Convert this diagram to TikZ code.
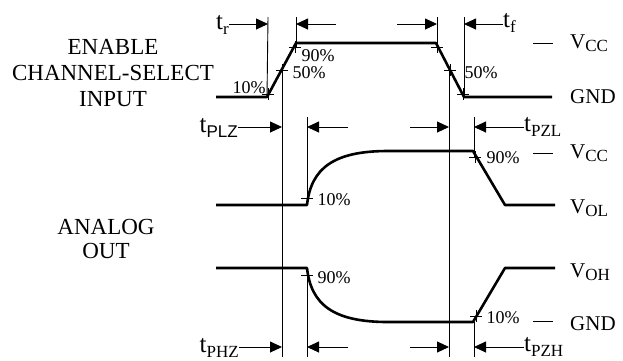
\documentclass[tikz,border=0pt]{standalone}
\usepackage{fontspec}
\setmainfont{Liberation Serif}
\newfontfamily\plzfont{Liberation Sans}
\usetikzlibrary{arrows.meta}
\newcommand{\lowsub}[1]{\raisebox{-0.4ex}{\fontsize{17}{17}\selectfont #1}}

\tikzset{
  wave/.style={line width=2.6pt,line join=round},
  guide/.style={line width=0.9pt},
  tick/.style={line width=1pt},
  tarrow/.style={line width=0.9pt,-{Triangle[length=12pt,width=11pt]}},
  pct/.style={inner sep=0pt,font=\fontsize{18}{18}\selectfont},
  lvl/.style={anchor=base west,inner sep=0pt,font=\fontsize{21}{21}\selectfont},
  tlbl/.style={inner sep=0pt,font=\fontsize{25}{25}\selectfont},
}

\begin{document}
\begin{tikzpicture}[x=1pt,y=-1pt]
  \useasboundingbox (0,0) rectangle (623,360);
  % names of the signals
  \node (input) at (113,73) [align=center,font=\fontsize{23}{26}\selectfont] {ENABLE\\CHANNEL-SELECT\\INPUT};
  \node (analog) at (106,239) [align=center,font=\fontsize{23}{24}\selectfont] {ANALOG\\OUT};

  % input waveform
  \coordinate (in0) at (216,97);
  \coordinate (in1) at (267,97);
  \coordinate (in2) at (296,43);
  \coordinate (in3) at (436,43);
  \coordinate (in4) at (464,97);
  \coordinate (in5) at (552,97);
  \draw[wave] (in0) -- (in1) -- (in2) -- (in3) -- (in4) -- (in5);

  % output, low level going to high impedance
  \coordinate (lo0) at (216,205);
  \coordinate (lo1) at (307,205);
  \coordinate (lo2) at (388,151);
  \coordinate (lo3) at (473,151);
  \coordinate (lo4) at (505,205);
  \coordinate (lo5) at (555,205);
  \draw[wave] (lo0) -- (lo1) .. controls (311,168) and (334,151) .. (lo2) -- (lo3) -- (lo4) -- (lo5);

  % output, high level going to high impedance
  \coordinate (hi0) at (216,268);
  \coordinate (hi1) at (307,268);
  \coordinate (hi2) at (388,322);
  \coordinate (hi3) at (473,322);
  \coordinate (hi4) at (505,268);
  \coordinate (hi5) at (555,268);
  \draw[wave] (hi0) -- (hi1) .. controls (311,305) and (334,322) .. (hi2) -- (hi3) -- (hi4) -- (hi5);

  % tick marks
  \foreach \x/\y in {268/94, 282/70, 295/47, 437/47, 450/70, 463/94, 307/198, 475/157, 307/275, 476/316} {
    \draw[tick] (\x-6,\y) -- (\x+6,\y);
    \draw[tick] (\x,\y-6) -- (\x,\y+6);
  }

  % guide lines
  \draw[guide] (268,17) -- (in1);
  \draw[guide] (296,17) -- (296,47);
  \draw[guide] (437,17) -- (437,47);
  \draw[guide] (464,17) -- (in4);
  \draw[guide] (282,70) -- (282,357);
  \draw[guide] (449,70) -- (449,357);
  \draw[guide] (307,117) -- (lo1);
  \draw[guide] (474,117) -- (474,157);
  \draw[guide] (307,275) -- (307,357);
  \draw[guide] (474,322) -- (474,357);

  % percent labels
  \node (p10a) at (249,88) [pct] {10\%};
  \node (p90a) at (318,56) [pct] {90\%};
  \node (p50a) at (309,73) [pct] {50\%};
  \node (p50b) at (481,73) [pct] {50\%};
  \node (p10b) at (334,200) [pct] {10\%};
  \node (p90b) at (503,158) [pct] {90\%};
  \node (p90c) at (334,278) [pct] {90\%};
  \node (p10c) at (503,318) [pct] {10\%};

  % levels
  \draw[guide] (533,43) -- (553,43);
  \node (vcc1) at (570,48) [lvl] {V\lowsub{CC}};
  \node (gnd1) at (570,103) [lvl] {GND};
  \draw[guide] (533,153) -- (553,153);
  \node (vcc2) at (570,158) [lvl] {V\lowsub{CC}};
  \node (vol) at (570,213) [lvl] {V\lowsub{OL}};
  \node (voh) at (570,277) [lvl] {V\lowsub{OH}};
  \draw[guide] (533,321) -- (553,321);
  \node (gnd2) at (570,330) [lvl] {GND};

  % timing arrows
  \node (tr) at (229,25) [tlbl,anchor=east] {t\lowsub{r}};
  \node (tf) at (503,23) [tlbl,anchor=west] {t\lowsub{f}};
  \node (tplz) at (238,128) [tlbl,anchor=east] {t\lowsub{\plzfont PLZ}};
  \node (tpzl) at (524,127) [tlbl,anchor=west] {t\lowsub{PZL}};
  \node (tphz) at (239,348) [tlbl,anchor=east] {t\lowsub{PHZ}};
  \node (tpzh) at (524,347) [tlbl,anchor=west] {t\lowsub{PZH}};
  \coordinate (e1) at (268,24);
  \coordinate (e2) at (296,24);
  \coordinate (e3) at (437,24);
  \coordinate (e4) at (464,24);
  \coordinate (s2) at (336,24);
  \coordinate (s3) at (397,24);
  \draw[tarrow] (tr.east |- e1) -- (e1);
  \draw[tarrow] (s2) -- (e2);
  \draw[tarrow] (s3) -- (e3);
  \draw[tarrow] (tf.west |- e4) -- (e4);
  \foreach \y/\n in {127/m, 347/b} {
    \coordinate (\n e1) at (282,\y);
    \coordinate (\n e2) at (307,\y);
    \coordinate (\n e3) at (449,\y);
    \coordinate (\n e4) at (474,\y);
    \coordinate (\n s2) at (348,\y);
    \coordinate (\n s3) at (410,\y);
    \draw[tarrow] (\n s2) -- (\n e2);
    \draw[tarrow] (\n s3) -- (\n e3);
  }
  \draw[tarrow] (tplz.east |- me1) -- (me1);
  \draw[tarrow] (tpzl.west |- me4) -- (me4);
  \draw[tarrow] (tphz.east |- be1) -- (be1);
  \draw[tarrow] (tpzh.west |- be4) -- (be4);
\end{tikzpicture}
\end{document}
